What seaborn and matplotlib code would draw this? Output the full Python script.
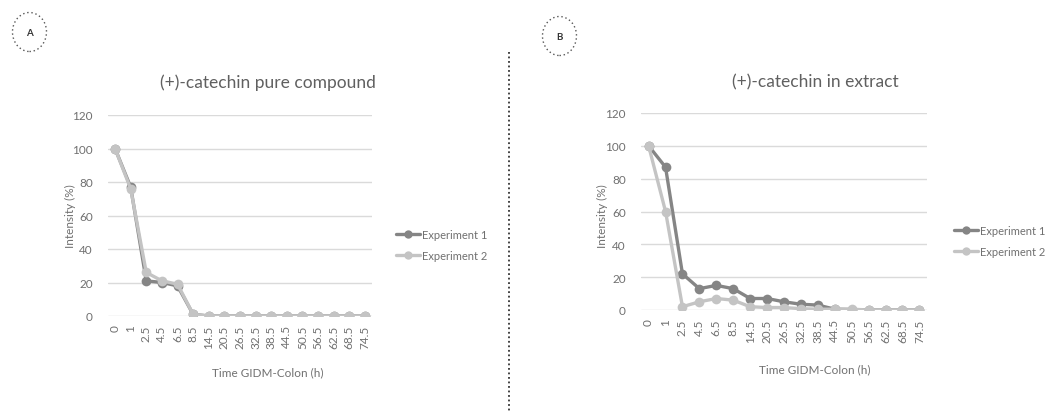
import numpy as np
import pandas as pd
import seaborn as sns
import matplotlib.pyplot as plt
from matplotlib.patches import Ellipse
from matplotlib.lines import Line2D

# time points (categorical axis, like an Excel line chart)
times = ['0', '1', '2.5', '4.5', '6.5', '8.5', '14.5', '20.5', '26.5', '32.5',
         '38.5', '44.5', '50.5', '56.5', '62.5', '68.5', '74.5']

# panel A: (+)-catechin pure compound
pure_exp1 = [100, 77, 21, 20, 18, 1, 0, 0, 0, 0, 0, 0, 0, 0, 0, 0, 0]
pure_exp2 = [100, 76, 26, 21, 19, 1, 0, 0, 0, 0, 0, 0, 0, 0, 0, 0, 0]

# panel B: (+)-catechin in extract
extr_exp1 = [100, 87, 22, 13, 15, 13, 7, 7, 5, 3.5, 3, 0.5, 0.3, 0, 0, 0, 0]
extr_exp2 = [100, 60, 2, 5, 7, 6, 2, 1.5, 1.5, 0.8, 0.5, 0.5, 0.5, 0, 0, 0, 0]

series_names = ['Experiment 1', 'Experiment 2']
colors = {'Experiment 1': '#858585', 'Experiment 2': '#c4c4c4'}
text_col = '#707070'

sns.set_style('white')
plt.rcParams['font.family'] = ['Lato', 'DejaVu Sans']

W, H = 1063, 414
fig = plt.figure(figsize=(W / 100, H / 100), dpi=100)


def px_axes(x0, x1, ytop, ybot):
    return fig.add_axes([x0 / W, 1 - ybot / H, (x1 - x0) / W, (ybot - ytop) / H])


def long_df(e1, e2):
    return pd.DataFrame({
        'pos': list(range(len(times))) * 2,
        'value': e1 + e2,
        'series': [series_names[0]] * len(times) + [series_names[1]] * len(times),
    })


def draw_panel(ax, e1, e2, title, title_x, title_y, xlab_y, ylab_x, leg_anchor):
    df = long_df(e1, e2)
    # experiment 2 is drawn last, so it sits on top (as in the original)
    sns.lineplot(data=df, x='pos', y='value', hue='series', palette=colors,
                 marker='o', markersize=7, markeredgewidth=0, linewidth=2.4,
                 ax=ax, legend=False, hue_order=series_names)
    ax.set_xlim(-0.45, len(times) - 0.55)
    ax.set_ylim(0, 120)
    ax.set_yticks(range(0, 121, 20))
    ax.set_xticks(range(len(times)))
    ax.set_xticklabels(times, rotation=90, fontsize=8.5, color=text_col)
    ax.tick_params(axis='y', labelsize=8.5, labelcolor=text_col, length=0, pad=11)
    ax.tick_params(axis='x', length=0, pad=6)
    ax.grid(axis='y', color='#dadada', linewidth=1)
    ax.set_axisbelow(True)
    for s in ax.spines.values():
        s.set_visible(False)
    ax.set_xlabel('')
    ax.set_ylabel('')
    fig.text(title_x / W, 1 - title_y / H, title, ha='center', va='center',
             fontsize=12.5, color='#606060')
    fig.text(title_x / W - 0.0, 1 - xlab_y / H, 'Time GIDM-Colon (h)', ha='center',
             va='center', fontsize=8.5, color=text_col)
    fig.text(ylab_x / W, 1 - 216 / H, 'Intensity (%)', rotation=90, ha='center',
             va='center', fontsize=8.5, color=text_col)
    handles = [Line2D([], [], color=colors[n], marker='o', markersize=6,
                      markeredgewidth=0, linewidth=2.4) for n in series_names]
    fig.legend(handles, series_names, loc='center left',
               bbox_to_anchor=(leg_anchor[0] / W, 1 - leg_anchor[1] / H),
               frameon=False, fontsize=8, labelcolor=text_col,
               handlelength=2.2, handletextpad=0.1, labelspacing=0.9)


axA = px_axes(108, 372, 116, 317)
draw_panel(axA, pure_exp1, pure_exp2, '(+)-catechin pure compound',
           268, 83, 373, 70, (386, 246))

axB = px_axes(641, 927, 114, 311)
draw_panel(axB, extr_exp1, extr_exp2, '(+)-catechin in extract',
           815, 82, 370, 602, (944, 242))

# panel labels in dotted circles
for cx, cy, lab in [(29.5, 33, 'A'), (559.5, 37, 'B')]:
    fig.add_artist(Ellipse((cx / W, 1 - cy / H), 34 / W, 39 / H,
                           transform=fig.transFigure, fill=False,
                           edgecolor='#555555', linestyle=(0, (1, 2)), linewidth=1))
    fig.text(cx / W, 1 - cy / H, lab, ha='center', va='center', fontsize=7,
             color='#333333', fontweight='bold')

# dotted separator
fig.add_artist(Line2D([509 / W, 509 / W], [1 - 53 / H, 0], transform=fig.transFigure,
                      color='#333333', linestyle=(0, (1, 1.5)), linewidth=1.3))

fig.savefig('out.png', dpi=100, facecolor='white')
